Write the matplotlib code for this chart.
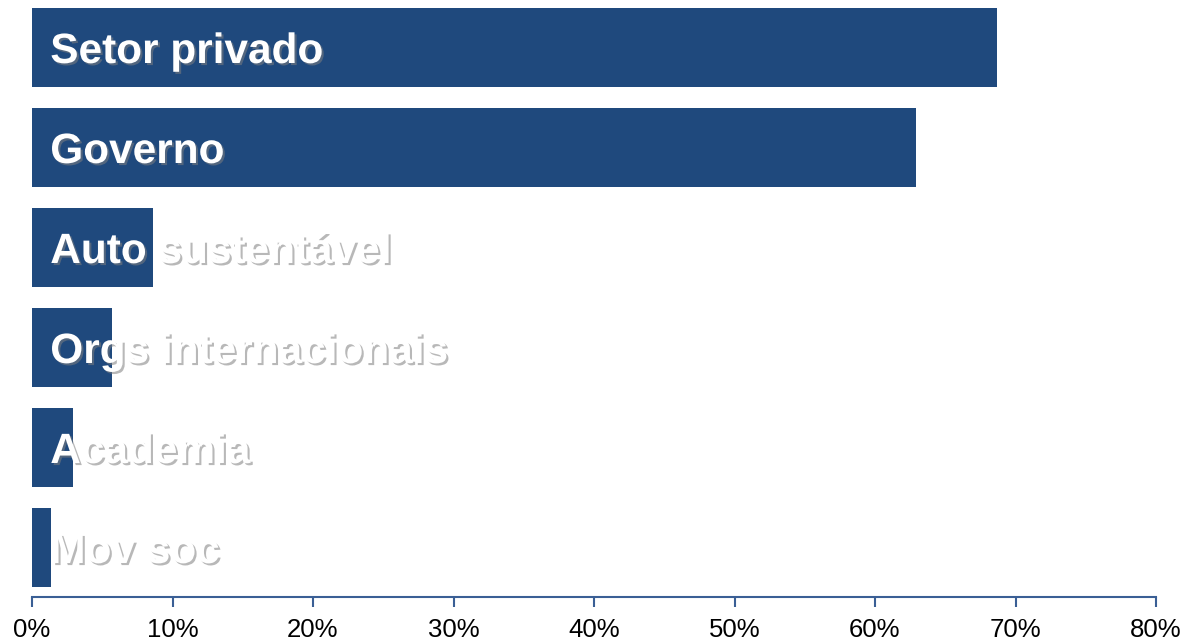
import matplotlib
matplotlib.use("Agg")
import matplotlib.pyplot as plt
import matplotlib.patheffects as pe
from matplotlib.ticker import FuncFormatter

categories = ["Setor privado", "Governo", "Auto sustentável",
              "Orgs internacionais", "Academia", "Mov soc"]
values = [68.7, 62.9, 8.6, 5.7, 2.9, 1.35]
xticks = [0, 10, 20, 30, 40, 50, 60, 70, 80]

bar_color = "#1F497D"
axis_color = "#3A5F95"

plt.rcParams["font.family"] = ["Liberation Sans", "DejaVu Sans"]

fig = plt.figure(figsize=(11.86, 6.42), dpi=100)
ax = fig.add_axes([32 / 1186, 45 / 642, 1124 / 1186, 597 / 642])

ypos = list(range(len(categories)))
ax.barh(ypos, values, height=0.79, color=bar_color)
ax.set_ylim(len(categories) - 1 + 0.495, -0.475)
ax.set_xlim(0, 80)

shadow = [pe.SimplePatchShadow(offset=(1.5, -1.5), shadow_rgbFace="#7F7F7F", alpha=0.55),
          pe.Normal()]
for y, label in zip(ypos, categories):
    ax.text(1.3, y + 0.155, label, color="white", fontsize=30.5, fontweight="bold",
            va="baseline", ha="left", path_effects=shadow)

ax.set_xticks(xticks)
ax.xaxis.set_major_formatter(FuncFormatter(lambda v, p: f"{v:.0f}%"))
ax.tick_params(axis="x", direction="out", length=7, width=1.5, color=axis_color,
               labelsize=18.5, pad=8)
ax.set_yticks([])
for s in ["top", "right", "left"]:
    ax.spines[s].set_visible(False)
ax.spines["bottom"].set_color(axis_color)
ax.spines["bottom"].set_linewidth(1.5)

fig.savefig("out.png", dpi=100)
